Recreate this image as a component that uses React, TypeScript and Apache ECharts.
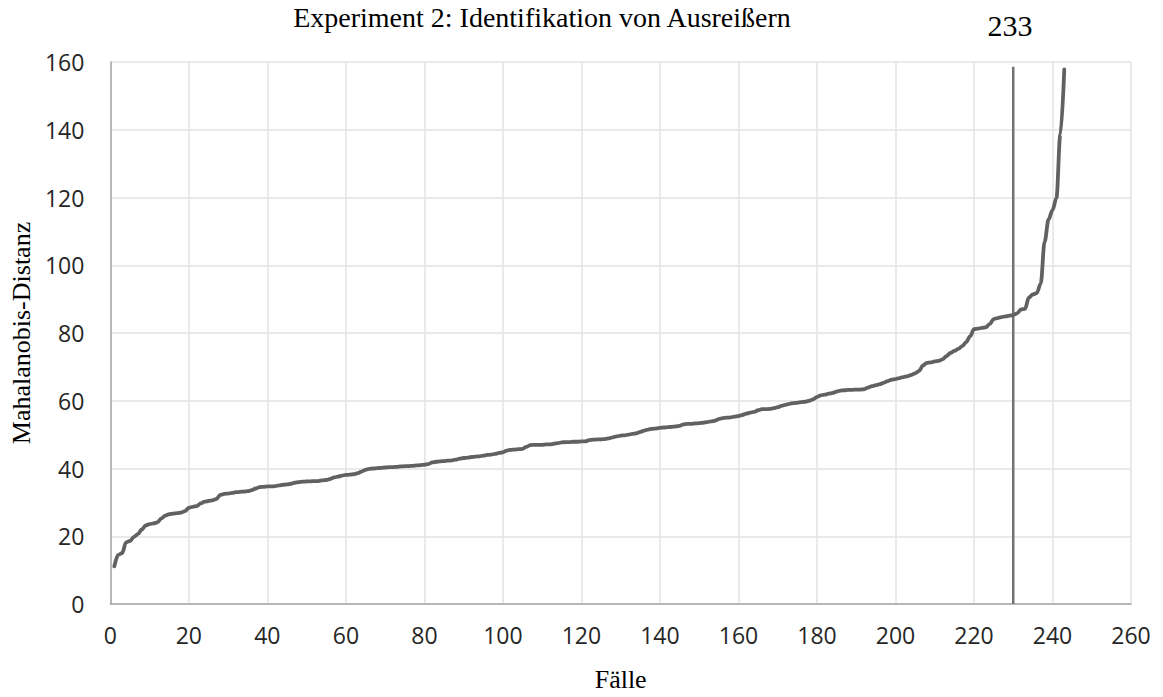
import React, { useEffect, useRef } from "react";
import * as echarts from "echarts";

const titleText = "Experiment 2: Identifikation von Ausreißern";
const markerLabel = "233";
const xAxisName = "Fälle";
const yAxisName = "Mahalanobis-Distanz";

// Mahalanobis distances, sorted ascending, case 1..243
const distances: number[] = [
  11.1, 14.5, 15.0, 18.2, 18.6, 19.8, 20.6, 22.0, 23.2, 23.6,
  23.8, 24.1, 25.3, 26.1, 26.5, 26.7, 26.8, 27.0, 27.4, 28.4,
  28.7, 28.9, 29.7, 30.2, 30.4, 30.6, 31.0, 32.2, 32.5, 32.6,
  32.8, 33.0, 33.1, 33.2, 33.3, 33.6, 34.1, 34.5, 34.6, 34.7,
  34.7, 34.8, 35.0, 35.2, 35.3, 35.5, 35.8, 36.0, 36.1, 36.2,
  36.2, 36.3, 36.3, 36.5, 36.6, 36.9, 37.4, 37.6, 37.9, 38.1,
  38.2, 38.3, 38.6, 39.1, 39.6, 39.9, 40.0, 40.1, 40.2, 40.3,
  40.4, 40.4, 40.5, 40.6, 40.7, 40.7, 40.8, 40.9, 41.0, 41.1,
  41.3, 41.8, 42.0, 42.1, 42.2, 42.3, 42.4, 42.6, 42.9, 43.1,
  43.2, 43.4, 43.5, 43.6, 43.8, 44.0, 44.1, 44.3, 44.6, 44.8,
  45.3, 45.5, 45.6, 45.7, 45.8, 46.4, 46.9, 47.0, 47.0, 47.0,
  47.1, 47.1, 47.3, 47.5, 47.7, 47.8, 47.8, 47.9, 47.9, 48.0,
  48.0, 48.4, 48.5, 48.6, 48.6, 48.7, 48.9, 49.2, 49.5, 49.7,
  49.8, 50.0, 50.2, 50.4, 50.8, 51.2, 51.5, 51.7, 51.8, 52.0,
  52.1, 52.2, 52.3, 52.4, 52.6, 53.0, 53.2, 53.2, 53.3, 53.4,
  53.5, 53.7, 53.9, 54.1, 54.6, 54.9, 55.0, 55.1, 55.3, 55.5,
  55.8, 56.2, 56.5, 56.7, 57.2, 57.5, 57.5, 57.6, 57.8, 58.1,
  58.5, 58.8, 59.1, 59.3, 59.4, 59.6, 59.7, 60.0, 60.4, 61.1,
  61.6, 61.8, 62.1, 62.3, 62.7, 63.0, 63.1, 63.2, 63.2, 63.3,
  63.3, 63.4, 63.9, 64.3, 64.6, 64.9, 65.3, 65.8, 66.2, 66.4,
  66.7, 67.0, 67.2, 67.6, 68.1, 68.8, 70.4, 71.2, 71.3, 71.6,
  71.8, 72.2, 73.2, 74.1, 74.7, 75.3, 76.1, 77.3, 79.0, 81.1,
  81.3, 81.5, 81.7, 82.6, 84.1, 84.4, 84.7, 84.9, 85.1, 85.3,
  85.8, 87.0, 87.1, 90.5, 91.4, 91.8, 94.6, 107.0, 113.5, 116.3,
  119.8, 138.6, 157.8,
];

// vertical cut-off line
const cutoffX = 230;
const cutoffY: number[] = [0, 158.6];

const xTicks = { min: 0, max: 260, interval: 20 };
const yTicks = { min: 0, max: 160, interval: 20 };

export default function App() {
  const ref = useRef<HTMLDivElement>(null);

  useEffect(() => {
    if (!ref.current) return;
    const chart = echarts.init(ref.current, undefined, { renderer: "svg" });
    const curve = distances.map((v, i) => [i + 1, v]);
    const cutoff = cutoffY.map((v) => [cutoffX, v]);
    const serif = "'Liberation Serif', 'Times New Roman', serif";
    const sans = "'Open Sans', 'Noto Sans', sans-serif";

    chart.setOption({
      animation: false,
      backgroundColor: "#ffffff",
      grid: { left: 108, right: 32, top: 62, bottom: 91, containLabel: false },
      xAxis: {
        type: "value",
        min: xTicks.min,
        max: xTicks.max,
        interval: xTicks.interval,
        name: xAxisName,
        nameLocation: "middle",
        nameGap: 62,
        nameTextStyle: { fontFamily: serif, fontSize: 26, color: "#000" },
        axisLine: { show: true, lineStyle: { color: "#a6a6a6", width: 1.5 } },
        axisTick: { show: false },
        axisLabel: { fontFamily: sans, fontSize: 23, color: "#262626", margin: 19 },
        splitLine: { show: true, lineStyle: { color: "#e3e3e3", width: 1.5 } },
      },
      yAxis: {
        type: "value",
        min: yTicks.min,
        max: yTicks.max,
        interval: yTicks.interval,
        name: yAxisName,
        nameLocation: "middle",
        nameGap: 74,
        nameTextStyle: { fontFamily: serif, fontSize: 26, color: "#000" },
        axisLine: { show: true, lineStyle: { color: "#a6a6a6", width: 1.5 } },
        axisTick: { show: false },
        axisLabel: { fontFamily: sans, fontSize: 23, color: "#262626", margin: 26 },
        splitLine: { show: true, lineStyle: { color: "#e3e3e3", width: 1.5 } },
      },
      graphic: [
        {
          type: "text",
          x: 542,
          y: 17,
          style: {
            text: titleText,
            font: `28px ${serif}`,
            fill: "#000",
            textAlign: "center",
            textVerticalAlign: "middle",
          },
        },
        {
          type: "text",
          x: 1010,
          y: 25,
          style: {
            text: markerLabel,
            font: `30px ${serif}`,
            fill: "#000",
            textAlign: "center",
            textVerticalAlign: "middle",
          },
        },
      ],
      series: [
        {
          type: "line",
          data: curve,
          showSymbol: false,
          symbol: "none",
          smooth: 0.35,
          smoothMonotone: "x",
          lineStyle: { color: "#616161", width: 3.8, cap: "round", join: "round" },
          z: 3,
        },
        {
          type: "line",
          data: cutoff,
          showSymbol: false,
          symbol: "none",
          lineStyle: { color: "#727272", width: 2.5 },
          z: 2,
        },
      ],
    });
    return () => chart.dispose();
  }, []);

  return <div ref={ref} style={{ width: 1163, height: 697, margin: -8 }} />;
}
